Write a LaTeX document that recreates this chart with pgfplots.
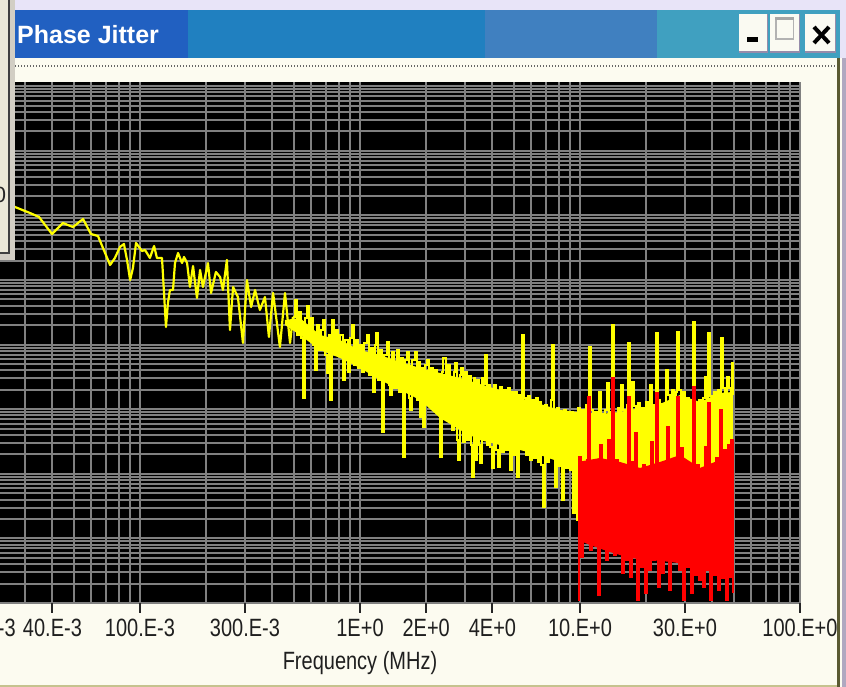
\documentclass[border=0pt]{standalone}
\usepackage{fontspec}
\setmainfont{Liberation Sans}
\newfontfamily\narrowfont[FakeStretch=0.8]{Liberation Sans}
\usepackage{pgfplots}
\pgfplotsset{compat=1.18}

\definecolor{winbg}{RGB}{252,251,240}
\definecolor{lavtop}{RGB}{232,228,248}
\definecolor{barA}{RGB}{33,96,193}
\definecolor{barB}{RGB}{32,128,192}
\definecolor{barC}{RGB}{64,128,192}
\definecolor{barD}{RGB}{64,160,192}
\definecolor{btnface}{RGB}{250,250,242}
\definecolor{btnshade}{RGB}{150,140,170}
\definecolor{gridgray}{RGB}{128,128,128}
\definecolor{traceyellow}{RGB}{255,255,0}
\definecolor{tracered}{RGB}{255,0,0}
\definecolor{panelface}{RGB}{236,233,216}
\definecolor{panelrim}{RGB}{210,206,196}
\definecolor{frameolive}{RGB}{90,90,50}
\definecolor{framelav}{RGB}{176,168,192}

\begin{document}
\begin{tikzpicture}
\useasboundingbox (0pt,0pt) rectangle (846pt,687pt);
\begin{scope}
\clip (0pt,0pt) rectangle (846pt,687pt);
\fill[winbg] (0pt,0pt) rectangle (846pt,687pt);

% x in log10(f / MHz), y in decades
\begin{axis}[
  at={(-80pt,84pt)}, anchor=south west,
  scale only axis, width=880pt, height=521pt,
  xmin=-2, xmax=2, ymin=0, ymax=8.065,
  axis background/.style={fill=black},
  axis line style={draw=none},
  xtick={-1.699,-1.398,-1,-0.523,0,0.301,0.602,1,1.477,2},
  xticklabels={20.E-3,40.E-3,100.E-3,300.E-3,1E+0,2E+0,4E+0,10.E+0,30.E+0,100.E+0},
  minor xtick={-1.699,-1.523,-1.398,-1.301,-1.222,-1.155,-1.097,-1.046,
    -0.699,-0.523,-0.398,-0.301,-0.222,-0.155,-0.097,-0.046,
    0.301,0.477,0.602,0.699,0.778,0.845,0.903,0.954,
    1.301,1.477,1.602,1.699,1.778,1.845,1.903,1.954},
  ytick={0,1,2,3,4,5,6,7,8},
  yticklabels={},
  minor ytick={0.301,0.477,0.602,0.699,0.778,0.845,0.903,0.954,
    1.301,1.477,1.602,1.699,1.778,1.845,1.903,1.954,
    2.301,2.477,2.602,2.699,2.778,2.845,2.903,2.954,
    3.301,3.477,3.602,3.699,3.778,3.845,3.903,3.954,
    4.301,4.477,4.602,4.699,4.778,4.845,4.903,4.954,
    5.301,5.477,5.602,5.699,5.778,5.845,5.903,5.954,
    6.301,6.477,6.602,6.699,6.778,6.845,6.903,6.954,
    7.301,7.477,7.602,7.699,7.778,7.845,7.903,7.954},
  grid=both,
  major grid style={draw=gridgray, line width=2pt},
  minor grid style={draw=gridgray, line width=2pt},
  tick align=outside,
  xtick pos=bottom, ytick pos=left,
  major tick length=10pt, minor tick length=0pt,
  xtick style={draw=black!85, line width=2pt},
  ytick style={draw=none},
  xticklabel style={font=\fontsize{25}{30}\narrowfont, text=black!88, anchor=north, inner sep=0pt, yshift=-6pt},
  xlabel={Frequency (MHz)},
  xlabel style={at={(axis description cs:0.5,0)}, anchor=north, inner sep=0pt, yshift=-48pt,
    font=\fontsize{25}{30}\narrowfont, text=black!88},
]

% dense core of the yellow trace
\addplot[fill=traceyellow, draw=none] coordinates {
(-0.341,4.381)(-0.273,4.412)(-0.182,4.149)(-0.091,4.071)(0,3.916)(0.091,3.839)(0.182,3.731)
(0.273,3.638)(0.364,3.560)(0.455,3.483)(0.545,3.390)(0.636,3.297)(0.727,3.173)(0.818,3.081)
(0.909,2.988)(0.991,2.957)(1.091,2.926)(1.182,2.957)(1.273,3.019)(1.364,3.081)(1.455,3.220)
(1.545,3.111)(1.636,3.251)(1.695,3.266)
(1.695,2.028)(1.545,1.981)(1.364,1.966)(1.182,1.997)(0.991,2.090)(0.909,2.183)(0.818,2.291)
(0.727,2.368)(0.636,2.446)(0.545,2.523)(0.455,2.678)(0.364,2.864)(0.273,3.142)(0.182,3.297)
(0.091,3.452)(0,3.638)(-0.091,3.793)(-0.182,3.916)(-0.273,4.149)(-0.341,4.303)
} -- cycle;

% yellow trace, sparse low-frequency part
\addplot[traceyellow, line width=2.2pt, line join=round, no markers] coordinates {
(-1.627,6.177)(-1.568,6.130)(-1.523,6.068)(-1.500,6.037)(-1.459,5.975)(-1.400,5.712)(-1.350,5.882)
(-1.305,5.820)(-1.259,5.944)(-1.223,5.712)(-1.191,5.681)(-1.136,5.232)(-1.114,5.341)(-1.091,5.511)
(-1.073,5.557)(-1.059,5.310)(-1.045,5.000)(-1.032,5.186)(-1.018,5.573)(-0.991,5.449)(-0.977,5.464)
(-0.955,5.341)(-0.936,5.526)(-0.923,5.341)(-0.900,5.341)(-0.895,5.046)(-0.882,4.272)(-0.873,4.644)
(-0.864,4.845)(-0.850,4.845)(-0.841,5.263)(-0.827,5.418)(-0.809,5.263)(-0.800,5.356)(-0.786,5.263)
(-0.773,4.892)(-0.759,5.217)(-0.741,4.721)(-0.727,5.155)(-0.714,4.892)(-0.691,5.263)(-0.677,4.799)
(-0.655,5.124)(-0.636,5.046)(-0.623,4.845)(-0.605,5.310)(-0.591,4.226)(-0.577,4.892)(-0.555,4.737)
(-0.532,4.025)(-0.514,5.000)(-0.495,4.582)(-0.477,4.845)(-0.455,4.536)(-0.432,4.737)(-0.414,4.118)
(-0.395,4.799)(-0.364,3.963)(-0.341,4.799)(-0.318,4.025)(-0.305,4.427)
};

% yellow trace, dense part (one step per frequency bin)
\addplot[traceyellow, line width=2.2pt, const plot, no markers] coordinates {
(-0.305,4.427)
(-0.295,4.690)(-0.286,4.149)(-0.277,4.505)(-0.268,4.102)(-0.259,3.173)(-0.250,4.412)(-0.241,4.598)
(-0.232,4.071)(-0.223,4.412)(-0.214,3.994)(-0.205,3.607)(-0.195,4.303)(-0.186,3.916)(-0.177,4.226)
(-0.168,4.381)(-0.159,3.839)(-0.150,3.560)(-0.141,4.149)(-0.136,3.142)(-0.127,4.381)(-0.118,3.885)
(-0.109,4.226)(-0.100,3.824)(-0.091,4.149)(-0.077,3.452)(-0.068,4.071)(-0.055,3.576)(-0.045,4.102)
(-0.036,4.303)(-0.027,3.684)(-0.018,4.071)(-0.009,3.638)(0,3.994)(0.009,3.576)(0.018,4.025)
(0.032,4.149)(0.041,3.529)(0.050,3.947)(0.059,3.266)(0.068,3.994)(0.073,4.180)(0.082,3.452)
(0.091,3.916)(0.100,2.647)(0.109,3.839)(0.123,4.040)(0.132,3.375)(0.136,3.220)(0.145,3.885)
(0.155,3.328)(0.168,3.916)(0.177,3.266)(0.186,3.793)(0.195,2.260)(0.205,3.762)(0.214,3.885)
(0.223,3.173)(0.227,2.988)(0.236,3.762)(0.250,3.885)(0.259,3.142)(0.268,3.731)(0.273,2.879)
(0.282,3.638)(0.286,2.724)(0.295,3.684)(0.305,3.762)(0.314,3.065)(0.323,3.638)(0.332,3.019)
(0.341,3.607)(0.350,3.065)(0.359,3.529)(0.364,2.260)(0.373,3.576)(0.377,3.793)(0.391,2.988)
(0.400,3.684)
(0.409,3.452)(0.418,2.678)(0.427,3.576)(0.432,3.715)(0.441,2.523)(0.445,2.214)(0.455,3.529)
(0.459,3.638)(0.468,2.492)(0.477,3.576)(0.486,2.523)(0.495,3.514)(0.505,2.446)(0.509,1.950)
(0.518,3.483)(0.523,2.214)(0.532,3.452)(0.541,2.446)(0.545,2.167)(0.555,3.483)(0.564,3.390)
(0.568,3.839)(0.577,2.446)(0.586,3.375)(0.591,2.415)(0.600,2.090)(0.609,3.375)(0.618,2.368)
(0.627,2.105)(0.636,3.344)(0.645,2.337)(0.655,3.297)(0.664,2.368)(0.673,3.328)(0.682,2.059)
(0.691,3.266)(0.700,2.291)(0.709,3.266)(0.714,1.950)(0.723,3.220)(0.732,3.142)(0.736,4.149)
(0.745,3.173)(0.755,2.291)(0.764,3.204)(0.773,2.214)(0.782,3.142)(0.791,2.245)(0.800,3.173)
(0.809,2.183)(0.818,3.111)(0.823,2.136)(0.832,1.486)(0.841,3.065)(0.850,2.183)(0.859,3.019)
(0.868,3.142)(0.873,3.994)(0.882,2.988)(0.886,1.796)(0.895,3.019)(0.905,2.121)(0.914,2.957)
(0.918,1.594)(0.927,2.988)(0.936,2.090)(0.945,2.910)(0.955,2.059)(0.964,2.957)(0.968,1.393)
(0.977,2.910)(0.986,1.285)(0.991,3.019)
(1.000,1.904)(1.009,2.988)(1.018,1.827)(1.027,3.065)(1.036,1.935)(1.041,3.963)(1.050,2.988)
(1.059,1.873)(1.068,2.957)(1.077,1.904)(1.086,3.266)(1.095,2.926)(1.105,1.827)(1.114,2.988)
(1.123,3.406)(1.132,1.904)(1.141,2.957)(1.145,4.303)(1.155,2.910)(1.164,1.827)(1.173,3.019)
(1.182,1.935)(1.186,3.375)(1.195,2.988)(1.205,1.780)(1.214,3.065)(1.218,4.025)(1.227,1.873)
(1.236,3.421)(1.245,3.050)(1.255,1.827)(1.264,3.096)(1.273,1.904)(1.282,3.019)(1.291,1.796)
(1.300,3.111)(1.309,1.873)(1.318,3.375)(1.327,3.065)(1.336,1.811)(1.345,4.180)(1.355,3.142)
(1.364,1.904)(1.373,3.081)(1.382,1.811)(1.391,3.607)(1.400,3.220)(1.409,1.842)(1.418,3.297)
(1.427,1.780)(1.436,3.266)(1.441,4.195)(1.450,3.297)(1.459,1.749)(1.468,3.266)(1.477,1.827)
(1.486,3.173)(1.495,1.718)(1.505,3.111)(1.514,4.350)(1.523,3.065)(1.532,1.780)(1.541,3.142)
(1.550,1.873)(1.559,3.173)(1.568,3.498)(1.577,3.173)(1.582,4.180)(1.591,3.204)(1.600,1.827)
(1.609,3.266)(1.618,1.749)(1.627,3.297)(1.636,1.904)(1.641,4.102)(1.650,3.328)(1.659,1.718)
(1.668,3.498)(1.677,3.328)(1.686,1.935)(1.691,3.715)(1.695,3.220)
};

% dense core of the red trace
\addplot[fill=tracered, draw=none] coordinates {
(0.991,2.183)(1.091,2.245)(1.182,2.183)(1.273,2.090)(1.364,2.183)(1.455,2.291)(1.545,2.090)
(1.636,2.214)(1.695,2.446)
(1.695,0.588)(1.591,0.511)(1.505,0.588)(1.414,0.635)(1.318,0.666)(1.227,0.697)(1.136,0.789)
(1.045,0.898)(0.991,0.975)
} -- cycle;

% red trace
\addplot[tracered, line width=2.2pt, const plot, no markers] coordinates {
(0.991,0.046)(0.995,2.260)(1.005,0.712)(1.014,2.136)(1.023,1.130)(1.032,2.214)(1.036,3.189)
(1.045,0.820)(1.055,2.183)(1.064,0.975)(1.073,2.059)(1.082,0.124)(1.091,2.446)(1.100,1.084)
(1.109,2.136)(1.118,0.666)(1.127,2.523)(1.136,0.820)(1.145,3.483)(1.155,0.743)(1.164,2.214)
(1.173,0.774)(1.182,2.090)(1.191,0.464)(1.200,2.136)(1.209,0.666)(1.218,3.189)(1.227,0.402)
(1.236,2.183)(1.245,0.975)(1.250,2.632)(1.259,0.046)(1.268,2.059)(1.277,0.557)(1.286,2.136)
(1.295,0.155)(1.305,2.090)(1.314,0.511)(1.323,2.492)(1.332,0.666)(1.341,2.059)(1.345,3.251)
(1.355,0.248)(1.364,2.136)(1.373,0.464)(1.382,2.090)(1.391,0.666)(1.395,2.724)(1.405,0.201)
(1.414,2.059)(1.423,0.697)(1.432,2.214)(1.441,3.189)(1.450,0.511)(1.459,2.399)(1.468,0.046)
(1.477,2.136)(1.486,0.557)(1.495,2.059)(1.505,0.155)(1.514,3.344)(1.523,0.433)(1.532,2.136)
(1.541,0.356)(1.550,2.059)(1.559,0.248)(1.568,2.415)(1.577,0.511)(1.582,3.096)(1.591,0.046)
(1.600,2.136)(1.609,0.433)(1.618,2.245)(1.627,0.201)(1.636,2.988)(1.645,0.387)(1.655,2.368)
(1.664,0.046)(1.673,2.446)(1.682,0.402)(1.686,2.523)(1.695,0.155)(1.695,2.446)
};
\end{axis}

% window chrome
\begin{scope}[x=1pt,y=1pt]
  % strip above the title bar
  \fill[lavtop] (0,677) rectangle (846,687);
  % title bar bands
  \fill[barA] (15,629) rectangle (188,677);
  \fill[barB] (188,629) rectangle (485,677);
  \fill[barC] (485,629) rectangle (657,677);
  \fill[barD] (657,629) rectangle (840,677);
  \fill[lavtop] (840,629) rectangle (846,677);
  \node[anchor=base west, inner sep=0pt, text=white,
        font=\fontsize{25}{30}\selectfont\bfseries] at (17,643.5) {Phase Jitter};
  % caption buttons
  \foreach \xa/\xb in {739/768, 770/800, 805/836} {
    \fill[btnface] (\xa,634) rectangle (\xb,673);
    \draw[btnshade, line width=1.5pt] (\xa,634.75) -- (\xb-0.75,634.75) -- (\xb-0.75,673);
  }
  \fill[black] (747,645) rectangle (758,650);
  \draw[black!30, line width=1.5pt] (775.75,647.75) rectangle (793.25,669.25);
  \fill[black!35] (775,666.5) rectangle (794,670);
  \draw[black, line width=4pt] (814,660) -- (829,644);
  \draw[black, line width=4pt] (814,644) -- (829,660);
  % dotted separator under the title bar
  \draw[black!60, line width=1.3pt, dash pattern=on 1.3pt off 1.7pt] (15,621) -- (836,621);
  % right window frame
  \fill[frameolive] (837,0) rectangle (839.5,629);
  \fill[winbg] (839.5,0) rectangle (841.5,629);
  \fill[framelav] (841.5,0) rectangle (846,629);
  % bottom edge
  \fill[black!30!olive!40] (0,0) rectangle (837,1.8);
  % neighbouring panel on the left
  \fill[panelrim] (0,427) rectangle (15,687);
  \fill[black!75] (0,433) rectangle (10,687);
  \fill[panelface] (0,435) rectangle (8,687);
  \node[inner sep=0pt, text=black!85, font=\fontsize{22}{26}\selectfont] at (0,492) {0};
\end{scope}
\end{scope}
\end{tikzpicture}
\end{document}
